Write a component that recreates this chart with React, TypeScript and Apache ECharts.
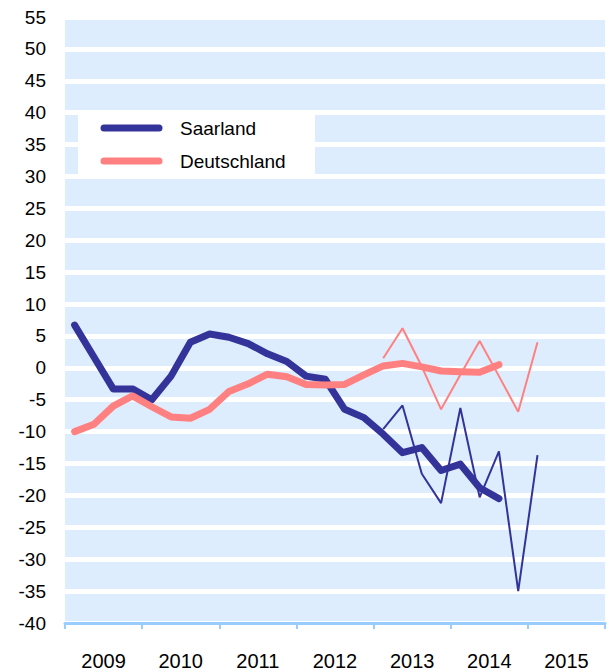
import React, { useEffect, useRef } from "react";
import * as echarts from "echarts";

const years = ["2009", "2010", "2011", "2012", "2013", "2014", "2015"];
const quarters: string[] = [];
years.forEach((y) => ["Q1", "Q2", "Q3", "Q4"].forEach((q) => quarters.push(y + q)));

const saarlandTrend = [6.7, 1.7, -3.3, -3.3, -5.0, -1.3, 4.0, 5.3, 4.8, 3.8, 2.2, 1.0, -1.3, -1.8, -6.5, -7.8, -10.4, -13.3, -12.5, -16.1, -15.1, -18.8, -20.5];
const deutschlandTrend = [-10.0, -8.85, -6.0, -4.4, -6.1, -7.7, -7.9, -6.5, -3.7, -2.5, -1.0, -1.4, -2.6, -2.7, -2.6, -1.1, 0.3, 0.7, 0.15, -0.5, -0.6, -0.7, 0.5];
const quarterlyStart = 16;
const saarlandQuarterly = [-9.6, -5.9, -16.6, -21.2, -6.3, -20.3, -13.1, -35.0, -13.7];
const deutschlandQuarterly = [1.5, 6.2, 0.2, -6.5, -1.1, 4.2, -1.3, -6.9, 4.0];

const SAAR = "#333399";
const DEU = "#ff8080";
const FONT = "'Liberation Sans', Arial, sans-serif";

function pad(arr: number[], start: number): (number | null)[] {
  const out: (number | null)[] = quarters.map(() => null);
  arr.forEach((v, i) => (out[start + i] = v));
  return out;
}

export default function App() {
  const ref = useRef<HTMLDivElement>(null);
  useEffect(() => {
    document.body.style.margin = "0";
    const chart = echarts.init(ref.current!, null, { renderer: "svg" });
    const thick = { type: "line", showSymbol: false, symbol: "none", lineStyle: { width: 7, cap: "round", join: "round" } };
    const thin = { type: "line", showSymbol: false, symbol: "none", lineStyle: { width: 2 } };
    chart.setOption({
      animation: false,
      textStyle: { fontFamily: FONT },
      grid: { left: 65, right: 8, top: 17, bottom: 49, show: true, backgroundColor: "#deedfd", borderWidth: 0 },
      xAxis: [
        { type: "category", data: quarters, boundaryGap: true, show: false },
        {
          type: "category",
          data: years,
          boundaryGap: true,
          position: "bottom",
          axisLine: { lineStyle: { color: "#99ccff", width: 3 } },
          axisTick: { show: true, length: 6, lineStyle: { color: "#99ccff", width: 2 } },
          axisLabel: { fontSize: 20, color: "#000", margin: 28, fontFamily: FONT },
          splitLine: { show: false },
        },
      ],
      yAxis: {
        type: "value",
        min: -40,
        max: 55,
        interval: 5,
        axisLine: { show: false },
        axisTick: { show: false },
        axisLabel: { fontSize: 19, color: "#000", margin: 19, fontFamily: FONT },
        splitLine: { show: true, lineStyle: { color: "#ffffff", width: 5 } },
      },
      series: [
        { ...thick, name: "Saarland", xAxisIndex: 0, data: pad(saarlandTrend, 0), lineStyle: { ...thick.lineStyle, color: SAAR }, itemStyle: { color: SAAR } },
        { ...thick, name: "Deutschland", xAxisIndex: 0, data: pad(deutschlandTrend, 0), lineStyle: { ...thick.lineStyle, color: DEU }, itemStyle: { color: DEU } },
        { ...thin, name: "Saarland Quartal", xAxisIndex: 0, data: pad(saarlandQuarterly, quarterlyStart), lineStyle: { ...thin.lineStyle, color: SAAR }, itemStyle: { color: SAAR } },
        { ...thin, name: "Deutschland Quartal", xAxisIndex: 0, data: pad(deutschlandQuarterly, quarterlyStart), lineStyle: { ...thin.lineStyle, color: DEU }, itemStyle: { color: DEU } },
      ],
      graphic: [
        { type: "rect", shape: { x: 78, y: 112, width: 237, height: 65 }, style: { fill: "#ffffff" }, z: 50 },
        { type: "line", shape: { x1: 104, y1: 128, x2: 159, y2: 128 }, style: { stroke: SAAR, lineWidth: 7, lineCap: "round" }, z: 51 },
        { type: "line", shape: { x1: 104, y1: 161, x2: 159, y2: 161 }, style: { stroke: DEU, lineWidth: 7, lineCap: "round" }, z: 51 },
        { type: "text", x: 180, y: 128, style: { text: "Saarland", font: `19px ${FONT}`, fill: "#000", textVerticalAlign: "middle", verticalAlign: "middle" }, z: 51 },
        { type: "text", x: 180, y: 161, style: { text: "Deutschland", font: `19px ${FONT}`, fill: "#000", textVerticalAlign: "middle", verticalAlign: "middle" }, z: 51 },
      ],
    });
    return () => chart.dispose();
  }, []);
  return <div ref={ref} style={{ width: 613, height: 672 }} />;
}
